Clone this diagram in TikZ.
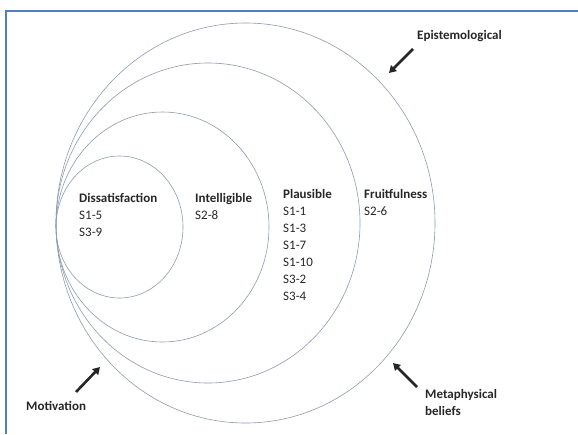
\documentclass[tikz,border=0pt]{standalone}
\usepackage{fontspec}
\setmainfont{Carlito}
\usetikzlibrary{arrows.meta,positioning}
\definecolor{frame}{HTML}{4F81BD}
\definecolor{ring}{HTML}{8C9BB0}
\definecolor{ink}{HTML}{262626}
\begin{document}
\begin{tikzpicture}[x=1pt,y=-1pt,>={Triangle[length=7pt,width=8pt]},
  ringline/.style={draw=ring,line width=0.6pt},
  label/.style={anchor=north west,inner sep=0pt,align=left,text=ink,font=\fontsize{13}{17}\selectfont},
  push/.style={->,line width=2.6pt,ink}]
      \useasboundingbox (0,0) rectangle (578,434);
      \draw[frame,line width=1.8pt] (6,434) -- (6,11) -- (578,11);
      % nested rings, all touching at the left
      \draw[ringline] (245.5,223) ellipse [x radius=189.5pt,y radius=200pt];
      \draw[ringline] (208,223) ellipse [x radius=152pt,y radius=160pt];
      \draw[ringline] (162.5,227) ellipse [x radius=106.5pt,y radius=115pt];
      \draw[ringline] (119.5,227) ellipse [x radius=63.5pt,y radius=71pt];
      \node[label] (dis) at (79,193) {\textbf{Dissatisfaction}\\S1-5\\S3-9};
      \node[label] (int) at (195,193) {\textbf{Intelligible}\\S2-8};
      \node[label] (pla) at (283,189) {\textbf{Plausible}\\S1-1\\S1-3\\S1-7\\S1-10\\S3-2\\S3-4};
      \node[label] (fru) at (364,189) {\textbf{Fruitfulness}\\S2-6};
      \node[label] (epi) at (417,30) {\textbf{Epistemological}};
      \node[label] (mot) at (26,401) {\textbf{Motivation}};
      \node[label] (met) at (425,389) {\textbf{Metaphysical}\\\textbf{beliefs}};
      \coordinate (epitail) at (413,49);
      \coordinate (epitip) at (389,73);
      \coordinate (mottail) at (76,392);
      \coordinate (mottip) at (100,367);
      \coordinate (mettail) at (417,387);
      \coordinate (mettip) at (393,363);
      \draw[push] (epitail) -- (epitip);
      \draw[push] (mottail) -- (mottip);
      \draw[push] (mettail) -- (mettip);
    \end{tikzpicture}
\end{document}
